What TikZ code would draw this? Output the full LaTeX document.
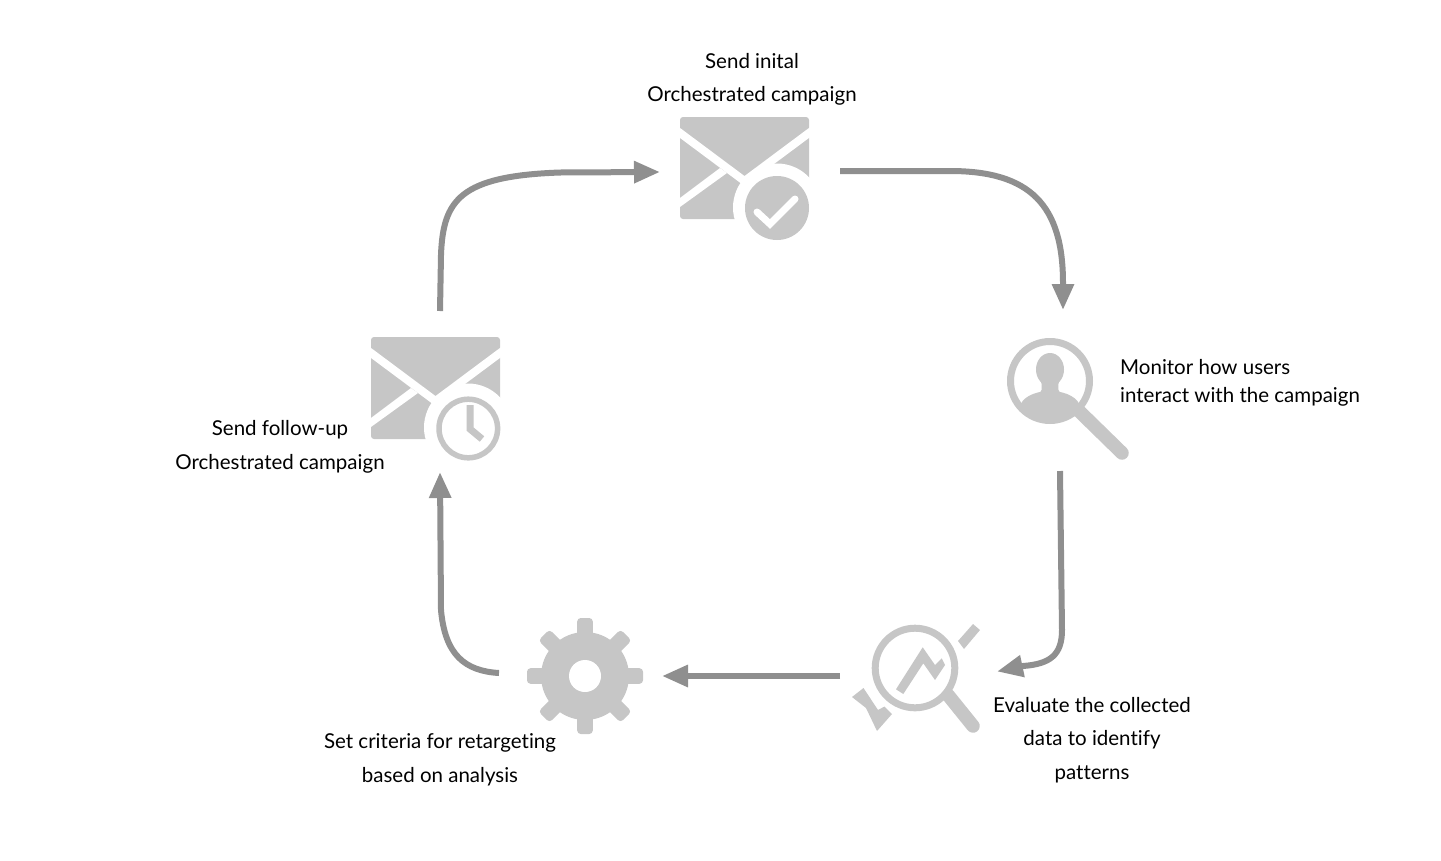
\documentclass[tikz,border=0pt]{standalone}
\usepackage{fontspec}
\setmainfont[Ligatures=NoCommon]{Lato}
\usetikzlibrary{arrows.meta}
\definecolor{icon}{HTML}{C6C6C6}
\definecolor{flow}{HTML}{8F8F8F}
\tikzset{
  flowarrow/.style={draw=flow,line width=6pt,-{Triangle[length=26pt,width=21pt]}},
  caption/.style={font=\fontsize{20.5}{33.5}\selectfont,text=black,align=center,inner sep=0pt},
  captionleft/.style={font=\fontsize{20.5}{28}\selectfont,text=black,align=left,inner sep=0pt,anchor=west},
  envelope/.pic={
    \fill[icon,rounded corners=3pt] (0,0) rectangle (129,102);
    \fill[white] (-1,10.2) -- (64.5,59) -- (130,10.2) -- (130,20.2) -- (64.5,69) -- (-1,20.2) -- cycle;
    \fill[white] (-1,81.7) -- (40,51) -- (47,56) -- (-1,90.7) -- cycle;
    \fill[white] (97,90.5) circle[radius=44];
  },
  ring/.style={draw=icon,line width=7pt},
  handle/.style={draw=icon,line width=13.5pt,line cap=round}
}
\begin{document}
\begin{tikzpicture}[x=1pt,y=-1pt]
\useasboundingbox (0,0) rectangle (1441,860);
% mail with check
\pic at (680,117) {envelope};
\fill[icon] (777,208) circle[radius=32];
\draw[draw=white,line width=7pt,line cap=round,line join=miter] (757,212) -- (770,224) -- (795,199);
% mail with clock
\pic at (371,337) {envelope};
\draw[draw=icon,line width=5.5pt] (468.3,428.5) circle[radius=29.3];
\draw[draw=icon,line width=7pt,line join=miter] (470,405) -- (470,429) -- (482,439);
% magnifier person
\draw[handle] (1078,410) -- (1122,453);
\fill[white] (1050,381) circle[radius=40];
\begin{scope}
\clip (1050,381) circle[radius=42];
\fill[icon] (1050,408) ellipse[x radius=30,y radius=17];
\end{scope}
\fill[icon] (1050,369.5) ellipse[x radius=14,y radius=16.5];
\fill[icon] (1039,378) .. controls (1042,382) and (1042,386) .. (1041.5,390)
  .. controls (1041,393) and (1036,394) .. (1034,396) -- (1066,396)
  .. controls (1064,394) and (1059,393) .. (1058.5,390)
  .. controls (1058,386) and (1058,382) .. (1061,378) -- cycle;
\draw[ring] (1050,381) circle[radius=39.5];
% magnifier chart
\draw[handle] (948,695) -- (973,726);
\fill[white] (915,668) circle[radius=40];
\draw[ring] (915,668) circle[radius=39.8];
\fill[icon] (896,689.3) -- (922.7,647.3) -- (935,665) -- (941.7,658.3) -- (945,665) -- (935,680) -- (923.3,663.3) -- (903.3,694) -- cycle;
\fill[icon] (958,641) -- (973,624) -- (980,630) -- (964,649) -- cycle;
\fill[icon] (852,697) -- (863.5,688) -- (878,710) -- (884.5,706.5) -- (892,714) -- (877,731) -- (866,708) -- cycle;
% gear
\fill[icon] (585,676) circle[radius=44];
\foreach \a in {0,45,...,315}{
  \fill[icon,rounded corners=3.5pt,shift={(585,676)},rotate=\a] (35,-7.8) rectangle (58,7.8);
}
\fill[white] (585,676) circle[radius=16];
% captions
\node[caption] (capa) at (752,79.5) {Send inital\\Orchestrated campaign};
\node[captionleft] (capb) at (1120,382.5) {Monitor how users\\interact with the campaign};
\node[caption] (capc) at (1092,740) {Evaluate the collected\\data to identify\\patterns};
\node[caption] (capd) at (440,760) {Set criteria for retargeting\\based on analysis};
\node[caption] (cape) at (280,447) {Send follow-up\\Orchestrated campaign};
% connector ends
\coordinate (mailOut) at (840,171);
\coordinate (monitorIn) at (1063,310);
\coordinate (monitorOut) at (1060,471);
\coordinate (evalIn) at (997,671.5);
\coordinate (evalOut) at (840,676);
\coordinate (gearIn) at (662,676);
\coordinate (gearOut) at (499,673);
\coordinate (followIn) at (440,472);
\coordinate (followOut) at (440,311);
\coordinate (mailIn) at (660,172);
\draw[flowarrow] (mailOut) -- (950,171) .. controls (1030,171) and (1063,205) .. (1063,283) -- (monitorIn);
\draw[flowarrow] (monitorOut) -- (1062,630) .. controls (1062,655) and (1050,664) .. (1023,666) -- (evalIn);
\draw[flowarrow] (evalOut) -- (gearIn);
\draw[flowarrow] (gearOut) .. controls (465,671) and (445,655) .. (441,610) -- (followIn);
\draw[flowarrow] (followOut) -- (441,255) .. controls (443,200) and (460,176) .. (560,172.5) -- (mailIn);
\end{tikzpicture}
\end{document}
